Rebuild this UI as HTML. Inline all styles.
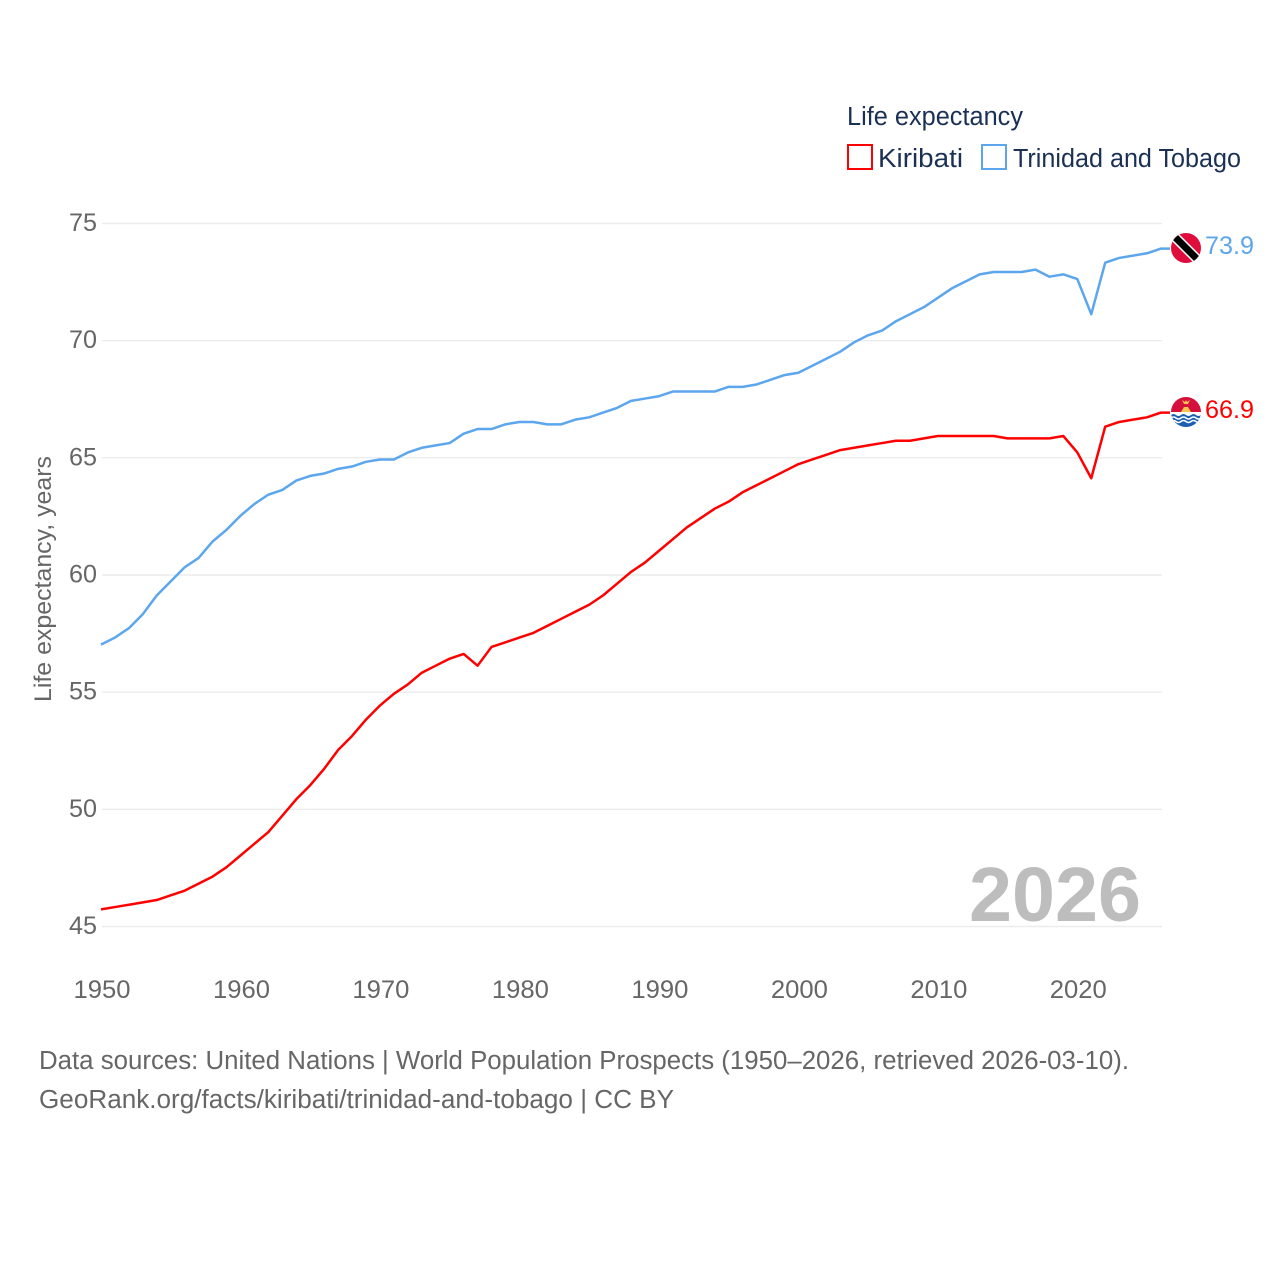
<!DOCTYPE html>
<html lang="en">
<head>
<meta charset="utf-8">
<title>Life expectancy: Kiribati and Trinidad and Tobago</title>
<style>
  html, body { margin: 0; padding: 0; background: #fff; }
  svg { display: block; }
  text { font-family: "Liberation Sans", "DejaVu Sans", sans-serif; }
</style>
</head>
<body>
<svg id="chart" xmlns="http://www.w3.org/2000/svg" width="1280" height="1280" viewBox="0 0 1280 1280">
  <rect width="1280" height="1280" fill="#fff"/>
  <g id="grid"></g>
  <g id="yticks"></g>
  <g id="xticks"></g>

  <text transform="translate(51,702) rotate(-90)" font-size="24" fill="#666" textLength="246" lengthAdjust="spacingAndGlyphs">Life expectancy, years</text>

  <text x="969" y="921" font-size="77" font-weight="700" fill="#bdbdbd" textLength="172" lengthAdjust="spacingAndGlyphs">2026</text>

  <g id="series"></g>

  <g>
    <text x="847" y="125" font-size="25.5" fill="#1a3055" textLength="176" lengthAdjust="spacingAndGlyphs">Life expectancy</text>
    <g>
      <rect x="848" y="145" width="24" height="24" fill="#fff" stroke="#ff0000" stroke-width="2"/>
      <text x="878" y="167" font-size="25.5" fill="#1a3055" textLength="85" lengthAdjust="spacingAndGlyphs">Kiribati</text>
    </g>
    <g>
      <rect x="982" y="145" width="24" height="24" fill="#fff" stroke="#5ca6ee" stroke-width="2"/>
      <text x="1013" y="167" font-size="25.5" fill="#1a3055" textLength="228" lengthAdjust="spacingAndGlyphs">Trinidad and Tobago</text>
    </g>
  </g>

  <defs>
    <clipPath id="flag-clip-tt"><circle cx="1186" cy="248" r="15"/></clipPath>
    <clipPath id="flag-clip-ki"><circle cx="1186" cy="412" r="15"/></clipPath>
  </defs>

  <g clip-path="url(#flag-clip-tt)">
    <rect x="1171" y="233" width="30" height="30" fill="#e00d3c"/>
    <line x1="1172" y1="234" x2="1200" y2="262" stroke="#fff" stroke-width="10"/>
    <line x1="1172" y1="234" x2="1200" y2="262" stroke="#000" stroke-width="7"/>
  </g>

  <g clip-path="url(#flag-clip-ki)">
    <rect x="1171" y="397" width="30" height="16" fill="#d5103c"/>
    <rect x="1171" y="412" width="30" height="16" fill="#fff"/>
    <path d="M1181 412 L1184 407 L1188 407 L1191 412 Z" fill="#f8c84a"/>
    <path d="M1182 400 L1185 402 L1186 400 L1187 402 L1190 400 L1188 404 L1184 404 Z" fill="#f8c84a"/>
    <path d="M1171 415 q2.5 -2 5 0 t5 0 t5 0 t5 0 t5 0 t5 0 V428 H1171 Z" fill="#1c5fb0"/>
    <path d="M1171 418 q2.5 -2 5 0 t5 0 t5 0 t5 0 t5 0 t5 0" fill="none" stroke="#fff" stroke-width="1.5"/>
    <path d="M1171 421.5 q2.5 -2 5 0 t5 0 t5 0 t5 0 t5 0 t5 0" fill="none" stroke="#fff" stroke-width="1.5"/>
  </g>

  <text id="end-label-tt" x="1205" y="254" font-size="25" fill="#5ca6ee" textLength="49" lengthAdjust="spacingAndGlyphs"></text>
  <text id="end-label-ki" x="1205" y="418" font-size="25" fill="#ff0000" textLength="49" lengthAdjust="spacingAndGlyphs"></text>

  <g>
    <text x="39" y="1069" font-size="25.5" fill="#666" textLength="1090" lengthAdjust="spacingAndGlyphs">Data sources: United Nations | World Population Prospects (1950–2026, retrieved 2026-03-10).</text>
    <text x="39" y="1108" font-size="25.5" fill="#666" textLength="635" lengthAdjust="spacingAndGlyphs">GeoRank.org/facts/kiribati/trinidad-and-tobago | CC BY</text>
  </g>
</svg>

<script>
const startYear = 1950;
const kiribatiValues = [
  45.7, 45.8, 45.9, 46.0, 46.1, 46.3, 46.5, 46.8, 47.1, 47.5,
  48.0, 48.5, 49.0, 49.7, 50.4, 51.0, 51.7, 52.5, 53.1, 53.8,
  54.4, 54.9, 55.3, 55.8, 56.1, 56.4, 56.6, 56.1, 56.9, 57.1,
  57.3, 57.5, 57.8, 58.1, 58.4, 58.7, 59.1, 59.6, 60.1, 60.5,
  61.0, 61.5, 62.0, 62.4, 62.8, 63.1, 63.5, 63.8, 64.1, 64.4,
  64.7, 64.9, 65.1, 65.3, 65.4, 65.5, 65.6, 65.7, 65.7, 65.8,
  65.9, 65.9, 65.9, 65.9, 65.9, 65.8, 65.8, 65.8, 65.8, 65.9,
  65.2, 64.1, 66.3, 66.5, 66.6, 66.7, 66.9
];
const trinidadValues = [
  57.0, 57.3, 57.7, 58.3, 59.1, 59.7, 60.3, 60.7, 61.4, 61.9,
  62.5, 63.0, 63.4, 63.6, 64.0, 64.2, 64.3, 64.5, 64.6, 64.8,
  64.9, 64.9, 65.2, 65.4, 65.5, 65.6, 66.0, 66.2, 66.2, 66.4,
  66.5, 66.5, 66.4, 66.4, 66.6, 66.7, 66.9, 67.1, 67.4, 67.5,
  67.6, 67.8, 67.8, 67.8, 67.8, 68.0, 68.0, 68.1, 68.3, 68.5,
  68.6, 68.9, 69.2, 69.5, 69.9, 70.2, 70.4, 70.8, 71.1, 71.4,
  71.8, 72.2, 72.5, 72.8, 72.9, 72.9, 72.9, 73.0, 72.7, 72.8,
  72.6, 71.1, 73.3, 73.5, 73.6, 73.7, 73.9
];
const yTickValues = [45, 50, 55, 60, 65, 70, 75];
const xTickValues = [1950, 1960, 1970, 1980, 1990, 2000, 2010, 2020];

const SVG_NS = 'http://www.w3.org/2000/svg';
const lineOffsetX = -1;
const lineOffsetY = -0.7;
function xScale(year) { return 102 + (year - 1950) * (1162 - 102) / 76; }
function yScale(value) { return 926.5 - (value - 45) * (926.5 - 223.5) / 30; }

const gridGroup = document.getElementById('grid');
const yTickGroup = document.getElementById('yticks');
const xTickGroup = document.getElementById('xticks');
const seriesGroup = document.getElementById('series');

yTickValues.forEach(function (tick) {
  const line = document.createElementNS(SVG_NS, 'line');
  
  
  line.setAttribute('x1', 102);
  line.setAttribute('x2', 1162);
  line.setAttribute('y1', yScale(tick));
  line.setAttribute('y2', yScale(tick));
  line.setAttribute('stroke', '#ececec');
  line.setAttribute('stroke-width', 1.4);
  gridGroup.appendChild(line);

  const label = document.createElementNS(SVG_NS, 'text');
  
  
  label.setAttribute('x', 69);
  label.setAttribute('y', yScale(tick) + 7.5);
  label.setAttribute('font-size', 25);
  label.setAttribute('fill', '#666');
  label.setAttribute('textLength', 28);
  label.setAttribute('lengthAdjust', 'spacingAndGlyphs');
  label.textContent = tick;
  yTickGroup.appendChild(label);
});

xTickValues.forEach(function (tick) {
  const label = document.createElementNS(SVG_NS, 'text');
  
  
  label.setAttribute('x', xScale(tick) - 28.5);
  label.setAttribute('y', 998);
  label.setAttribute('font-size', 25);
  label.setAttribute('fill', '#666');
  label.setAttribute('textLength', 57);
  label.setAttribute('lengthAdjust', 'spacingAndGlyphs');
  label.textContent = tick;
  xTickGroup.appendChild(label);
});

function linePoints(values) {
  const pts = values.map(function (v, i) {
    return (xScale(startYear + i) + lineOffsetX).toFixed(2) + ',' + (yScale(v) + lineOffsetY).toFixed(2);
  });
  const last = values[values.length - 1];
  pts.push('1170,' + (yScale(last) + lineOffsetY).toFixed(2));
  return pts.join(' ');
}

const trinidadLine = document.createElementNS(SVG_NS, 'polyline');


trinidadLine.setAttribute('points', linePoints(trinidadValues));
trinidadLine.setAttribute('fill', 'none');
trinidadLine.setAttribute('stroke', '#5ca6ee');
trinidadLine.setAttribute('stroke-width', 2.5);
trinidadLine.setAttribute('stroke-linejoin', 'round');
seriesGroup.appendChild(trinidadLine);

const kiribatiLine = document.createElementNS(SVG_NS, 'polyline');


kiribatiLine.setAttribute('points', linePoints(kiribatiValues));
kiribatiLine.setAttribute('fill', 'none');
kiribatiLine.setAttribute('stroke', '#ff0000');
kiribatiLine.setAttribute('stroke-width', 2.5);
kiribatiLine.setAttribute('stroke-linejoin', 'round');
seriesGroup.appendChild(kiribatiLine);

document.getElementById('end-label-tt').textContent = trinidadValues[trinidadValues.length - 1].toFixed(1);
document.getElementById('end-label-ki').textContent = kiribatiValues[kiribatiValues.length - 1].toFixed(1);
</script>
</body>
</html>
